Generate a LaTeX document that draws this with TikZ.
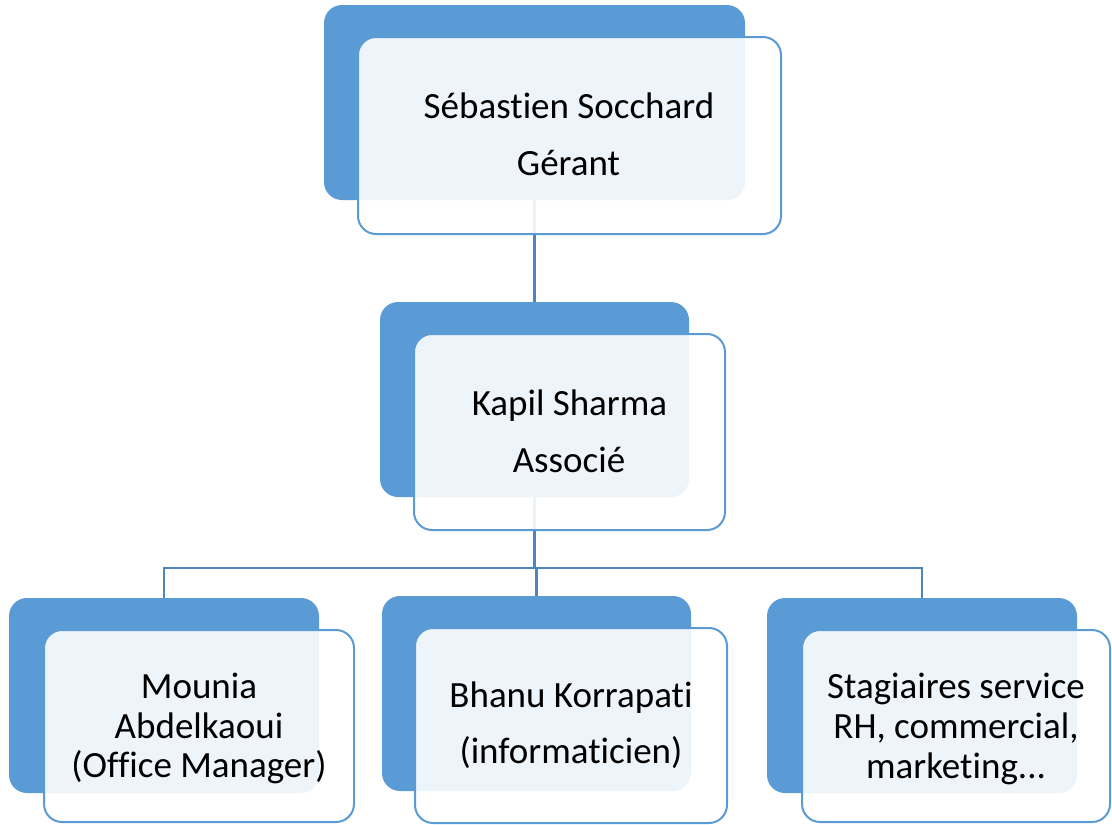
\documentclass[tikz,border=0pt]{standalone}
\usepackage{fontspec}
\setmainfont[Ligatures={NoCommon,NoContextual}]{Carlito}
\definecolor{smblue}{HTML}{5B9BD5}
\definecolor{linkblue}{HTML}{4F85BF}
\pgfdeclarelayer{bg}
\pgfsetlayers{bg,main}
\tikzset{
  backbox/.style={fill=smblue, draw=none, rounded corners=18pt, inner sep=0pt},
  frontbox/.style={draw=smblue, line width=2pt, fill=white, fill opacity=0.9, rounded corners=18pt, inner sep=0pt},
  txt/.style={font=\fontsize{37}{44}\selectfont, anchor=base, inner sep=0pt, text=black},
  link/.style={draw=linkblue, line width=2.6pt}
}
\begin{document}
\begin{tikzpicture}[x=1pt,y=-1pt]
\useasboundingbox (0,0) rectangle (1112,825);

% top
\node[backbox, minimum width=421pt, minimum height=195pt] (b1) at (534.5,102.5) {};
\node[frontbox, minimum width=423pt, minimum height=197pt] (f1) at (569.5,135.5) {};
\node[txt] (t1a) at (569,118) {Sébastien Socchard};
\node[txt] (t1b) at (568.5,175) {Gérant};

% Kapil
\node[backbox, minimum width=309pt, minimum height=195pt] (b2) at (534.5,399.5) {};
\node[frontbox, minimum width=311pt, minimum height=196pt] (f2) at (569.5,432) {};
\node[txt] (t2a) at (569.5,415) {Kapil Sharma};
\node[txt] (t2b) at (569,472) {Associé};

% Mounia
\node[backbox, minimum width=310pt, minimum height=195pt] (b3) at (164,695.5) {};
\node[frontbox, minimum width=310pt, minimum height=192pt] (f3) at (199,726) {};
\node[txt] (t3a) at (199,698) {Mounia};
\node[txt] (t3b) at (199,738) {Abdelkaoui};
\node[txt] (t3c) at (199,777) {(Office Manager)};

% Bhanu
\node[backbox, minimum width=309pt, minimum height=195pt] (b4) at (536.5,693.5) {};
\node[frontbox, minimum width=312pt, minimum height=195pt] (f4) at (571,725.5) {};
\node[txt] (t4a) at (571,707) {Bhanu Korrapati};
\node[txt] (t4b) at (571,763) {(informaticien)};

% Stagiaires
\node[backbox, minimum width=310pt, minimum height=195pt] (b5) at (922,695.5) {};
\node[frontbox, minimum width=308pt, minimum height=192pt] (f5) at (956,726) {};
\node[txt] (t5a) at (956,698) {Stagiaires service};
\node[txt] (t5b) at (956,738) {RH, commercial,};
\node[txt] (t5c) at (956,778) {marketing.{}.{}.};

\coordinate (bar) at (0,568);
\begin{pgfonlayer}{bg}
\draw[link] (b1.south) -- (b2.north);
\draw[link] (b2.south) -- (b2.south |- bar) -| (b3.north);
\draw[link] (b2.south) -- (b2.south |- bar) -| (b4.north);
\draw[link] (b2.south) -- (b2.south |- bar) -| (b5.north);
\end{pgfonlayer}
\end{tikzpicture}
\end{document}
